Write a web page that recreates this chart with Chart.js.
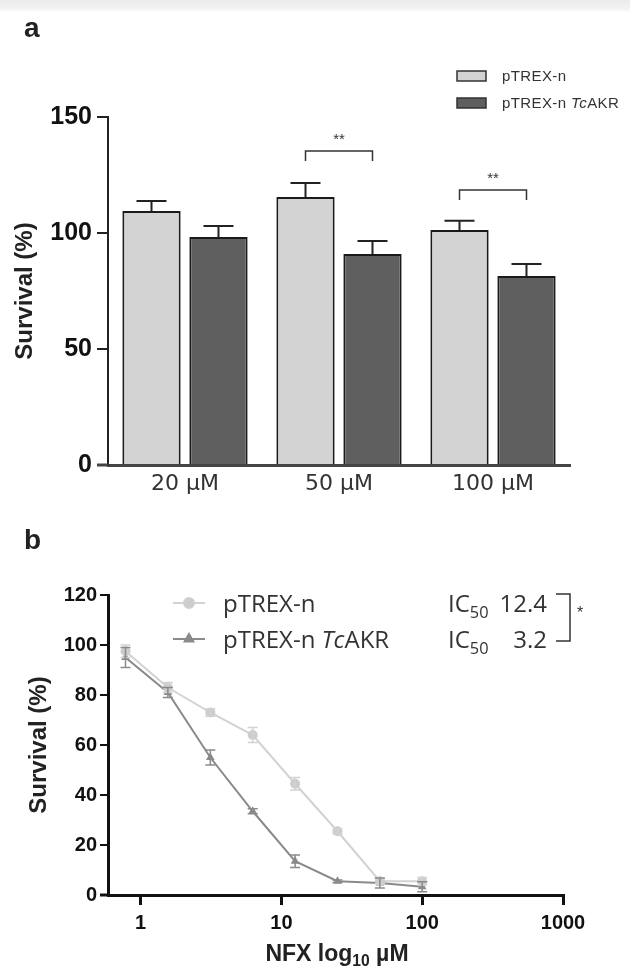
<!DOCTYPE html>
<html>
<head>
<meta charset="utf-8">
<script src="https://cdn.jsdelivr.net/npm/chart.js@4.4.0/dist/chart.umd.min.js"></script>
<style>
body { margin:0; width:630px; height:970px; background:#fff; position:relative; overflow:hidden; font-family:'Liberation Sans', Arial, sans-serif; }
#strip { position:absolute; left:0; top:0; width:630px; height:12px; background:linear-gradient(#ebebeb, #f2f2f2 70%, #fff); }
canvas { position:absolute; left:0; }
#ca { top:0; }
#cb { top:520px; }
.t { position:absolute; white-space:nowrap; color:#222; }
.leg { font:15px 'Liberation Sans', sans-serif; color:#333; line-height:16px; letter-spacing:0.4px; }
.legb { font:24px 'Open Sans', sans-serif; color:#333; line-height:26px; }
sub { font-size:68%; vertical-align:-0.35em; line-height:0; }
</style>
</head>
<body>
<div id="strip"></div>
<canvas id="ca" width="630" height="520"></canvas>
<canvas id="cb" width="630" height="450"></canvas>

<div class="t" style="left:24px;top:12px;font:bold 28px 'Liberation Sans';line-height:32px">a</div>
<div class="t" style="left:24px;top:524px;font:bold 28px 'Liberation Sans';line-height:32px">b</div>

<div class="t leg" style="left:502px;top:68px">pTREX-n</div>
<div class="t leg" style="left:502px;top:95px">pTREX-n <i>Tc</i>AKR</div>

<div class="t legb" style="left:223px;top:590px">pTREX-n</div>
<div class="t legb" style="left:223px;top:626px">pTREX-n <i>Tc</i>AKR</div>
<div class="t legb" style="left:448px;top:590px">IC<sub>50</sub></div>
<div class="t legb" style="right:83px;top:590px">12.4</div>
<div class="t legb" style="left:448px;top:626px">IC<sub>50</sub></div>
<div class="t legb" style="right:83px;top:626px">3.2</div>

<div class="t" style="left:212px;width:250px;text-align:center;top:940px;font:bold 23px 'Liberation Sans';line-height:26px;color:#222">NFX log<sub>10</sub> µM</div>

<script>
// panel a: survival at fixed NFX concentrations
var doseLabels = ['20 µM', '50 µM', '100 µM'];
var meanCtrl = [109.5, 115.5, 101.3];
var semCtrl = [4.3, 6.0, 4.0];
var meanAkr = [98.3, 91.0, 81.5];
var semAkr = [4.7, 5.5, 5.1];
var sigIndex = [1, 2];
var sigLevel = [135.3, 118.5];
var sigText = ['**', '**'];
var yTicksA = [0, 50, 100, 150];

// panel b: dose response, log axis
var conc = [0.78, 1.56, 3.125, 6.25, 12.5, 25, 50, 100];
var survCtrl = [97.5, 83, 73, 64, 44.5, 25.5, 5.5, 5.5];
var errCtrl = [2.5, 2, 1.5, 3, 2.5, 1, 1, 1.5];
var survAkr = [95, 81, 55, 33.5, 13.5, 5.5, 4.8, 3.3];
var errAkr = [4, 2, 3, 1, 2.5, 0.5, 2, 2];
var xTicksB = [1, 10, 100, 1000];

var lightFill = '#d3d3d3';
var darkFill = '#5f5f5f';
var lightLine = '#d2d2d2';
var darkLine = '#8a8a8a';

var barExtras = {
  id: 'barExtras',
  afterDatasetsDraw(chart) {
    var ctx = chart.ctx, y = chart.scales.y, area = chart.chartArea;
    var sems = [semCtrl, semAkr];
    ctx.save();
    // x axis runs a bit left of the y axis
    ctx.strokeStyle = '#444';
    ctx.lineWidth = 3;
    ctx.beginPath();
    ctx.moveTo(area.left - 11, area.bottom);
    ctx.lineTo(area.left, area.bottom);
    ctx.stroke();

    ctx.strokeStyle = '#222';
    ctx.lineWidth = 2;
    chart.data.datasets.forEach(function(ds, i) {
      chart.getDatasetMeta(i).data.forEach(function(bar, j) {
        var top = y.getPixelForValue(ds.data[j] + sems[i][j]);
        ctx.beginPath();
        ctx.moveTo(bar.x, bar.y);
        ctx.lineTo(bar.x, top);
        ctx.moveTo(bar.x - 15, top);
        ctx.lineTo(bar.x + 15, top);
        ctx.stroke();
      });
    });

    // significance brackets
    ctx.lineWidth = 1.5;
    ctx.strokeStyle = '#333';
    ctx.fillStyle = '#333';
    ctx.font = '15px "Liberation Sans"';
    ctx.textAlign = 'center';
    sigIndex.forEach(function(k, n) {
      var x1 = chart.getDatasetMeta(0).data[k].x;
      var x2 = chart.getDatasetMeta(1).data[k].x;
      var yb = y.getPixelForValue(sigLevel[n]);
      ctx.beginPath();
      ctx.moveTo(x1, yb + 10);
      ctx.lineTo(x1, yb);
      ctx.lineTo(x2, yb);
      ctx.lineTo(x2, yb + 10);
      ctx.stroke();
      ctx.fillText(sigText[n], (x1 + x2) / 2, yb - 7);
    });

    // legend swatches
    ctx.lineWidth = 1.5;
    ctx.strokeStyle = '#333';
    [lightFill, darkFill].forEach(function(c, i) {
      ctx.fillStyle = c;
      ctx.fillRect(457, 71 + i * 27, 29, 10);
      ctx.strokeRect(457, 71 + i * 27, 29, 10);
    });
    ctx.restore();
  }
};

new Chart('ca', {
  type: 'bar',
  data: {
    labels: doseLabels,
    datasets: [{
      label: 'pTREX-n',
      data: meanCtrl,
      backgroundColor: lightFill,
      borderColor: '#1a1a1a',
      borderWidth: 2,
      barPercentage: 0.87,
      categoryPercentage: 0.87
    }, {
      label: 'pTREX-n TcAKR',
      data: meanAkr,
      backgroundColor: darkFill,
      borderColor: '#1a1a1a',
      borderWidth: 2,
      barPercentage: 0.87,
      categoryPercentage: 0.87
    }]
  },
  options: {
    responsive: false,
    animation: false,
    layout: { padding: { left: 0, right: 60, top: 117, bottom: 0 } },
    plugins: { legend: { display: false }, tooltip: { enabled: false } },
    scales: {
      x: {
        afterFit: function(s) { s.height = 55; },
        grid: { display: false, drawTicks: false },
        border: { display: true, color: '#444', width: 3 },
        ticks: { padding: 6, color: '#333', font: { family: 'DejaVu Sans', size: 22 } }
      },
      y: {
        min: 0,
        max: 150,
        afterFit: function(s) { s.width = 108; },
        afterBuildTicks: function(s) { s.ticks = yTicksA.map(function(v) { return { value: v }; }); },
        grid: { display: true, drawOnChartArea: false, drawTicks: true, tickLength: 11, color: '#222', lineWidth: 2 },
        border: { display: true, color: '#222', width: 2 },
        ticks: { padding: 5, color: '#111', font: { family: 'Liberation Sans', size: 25, weight: 'bold' } },
        title: { display: true, text: 'Survival (%)', color: '#222', padding: { top: 11, bottom: 0 }, font: { family: 'Liberation Sans', size: 24, weight: 'bold' } }
      }
    }
  },
  plugins: [barExtras]
});

var lineExtras = {
  id: 'lineExtras',
  afterDatasetsDraw(chart) {
    var ctx = chart.ctx, x = chart.scales.x, y = chart.scales.y, area = chart.chartArea;
    var errs = [errCtrl, errAkr];
    ctx.save();
    ctx.strokeStyle = '#111';
    ctx.lineWidth = 3;
    ctx.beginPath();
    ctx.moveTo(area.left - 8, area.bottom);
    ctx.lineTo(area.left, area.bottom);
    ctx.stroke();

    ctx.lineWidth = 1.5;
    chart.data.datasets.forEach(function(ds, i) {
      ctx.strokeStyle = ds.borderColor;
      ds.data.forEach(function(p, j) {
        var px = x.getPixelForValue(p.x);
        var lo = y.getPixelForValue(p.y - errs[i][j]);
        var hi = y.getPixelForValue(p.y + errs[i][j]);
        ctx.beginPath();
        ctx.moveTo(px, lo); ctx.lineTo(px, hi);
        ctx.moveTo(px - 5, lo); ctx.lineTo(px + 5, lo);
        ctx.moveTo(px - 5, hi); ctx.lineTo(px + 5, hi);
        ctx.stroke();
      });
    });

    // legend symbols
    chart.data.datasets.forEach(function(ds, i) {
      var ly = 83 + i * 36;
      ctx.strokeStyle = ds.borderColor;
      ctx.fillStyle = ds.backgroundColor;
      ctx.lineWidth = 2;
      ctx.beginPath();
      ctx.moveTo(173, ly); ctx.lineTo(205, ly);
      ctx.stroke();
      Chart.helpers.drawPoint(ctx, { pointStyle: ds.pointStyle, radius: 5, borderWidth: 1 }, 189, ly);
      ctx.fill();
    });

    // IC50 bracket
    ctx.strokeStyle = '#333';
    ctx.fillStyle = '#333';
    ctx.lineWidth = 1.5;
    ctx.beginPath();
    ctx.moveTo(556, 74); ctx.lineTo(570, 74); ctx.lineTo(570, 121); ctx.lineTo(556, 121);
    ctx.stroke();
    ctx.font = '16px "Liberation Sans"';
    ctx.textAlign = 'center';
    ctx.fillText('*', 580, 98);
    ctx.restore();
  }
};

function pts(xs, ys) {
  return xs.map(function(v, i) { return { x: v, y: ys[i] }; });
}

new Chart('cb', {
  type: 'line',
  data: {
    datasets: [{
      label: 'pTREX-n',
      data: pts(conc, survCtrl),
      borderColor: lightLine,
      backgroundColor: '#cdcdcd',
      borderWidth: 2,
      pointStyle: 'circle',
      pointRadius: 5,
      pointBorderWidth: 0
    }, {
      label: 'pTREX-n TcAKR',
      data: pts(conc, survAkr),
      borderColor: darkLine,
      backgroundColor: '#8a8a8a',
      borderWidth: 2,
      pointStyle: 'triangle',
      pointRadius: 5,
      pointBorderWidth: 0
    }]
  },
  options: {
    responsive: false,
    animation: false,
    layout: { padding: { left: 0, right: 67, top: 75, bottom: 0 } },
    plugins: { legend: { display: false }, tooltip: { enabled: false } },
    scales: {
      x: {
        type: 'logarithmic',
        min: 0.586,
        max: 1000,
        afterFit: function(s) { s.height = 75; },
        afterBuildTicks: function(s) { s.ticks = xTicksB.map(function(v) { return { value: v }; }); },
        grid: { display: true, drawOnChartArea: false, drawTicks: true, tickLength: 10, color: '#111', lineWidth: 3 },
        border: { display: true, color: '#111', width: 3 },
        ticks: { padding: 6, color: '#111', callback: function(v) { return String(v); }, font: { family: 'Liberation Sans', size: 20, weight: 'bold' } }
      },
      y: {
        min: 0,
        max: 120,
        afterFit: function(s) { s.width = 108; },
        grid: { display: true, drawOnChartArea: false, drawTicks: true, tickLength: 8, color: '#111', lineWidth: 2 },
        border: { display: true, color: '#111', width: 3 },
        ticks: { stepSize: 20, padding: 3, color: '#111', font: { family: 'Liberation Sans', size: 20, weight: 'bold' } },
        title: { display: true, text: 'Survival (%)', color: '#222', padding: { top: 25, bottom: 0 }, font: { family: 'Liberation Sans', size: 24, weight: 'bold' } }
      }
    }
  },
  plugins: [lineExtras]
});
</script>
</body>
</html>
